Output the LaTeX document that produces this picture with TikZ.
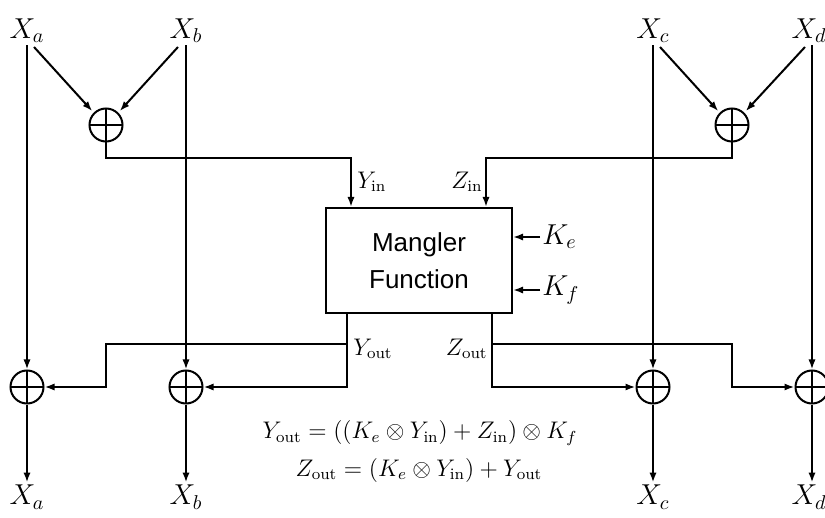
\documentclass[tikz,border=0pt]{standalone}
\usepackage{fontspec}
\newfontfamily\boxfont{Liberation Sans}
\usetikzlibrary{arrows.meta, positioning, calc}

\begin{document}
\begin{tikzpicture}[x=0.5pt, y=-0.5pt,
  wire/.style={line width=1pt},
  arr/.style={wire, -{Latex[length=5pt,width=3.6pt]}},
  xor/.style={circle, draw, line width=1pt, minimum size=16.5pt, inner sep=0pt,
    path picture={\draw[line width=1pt] (path picture bounding box.west) -- (path picture bounding box.east)
      (path picture bounding box.north) -- (path picture bounding box.south);}},
  lbl/.style={inner sep=1pt, font=\Large},
  mangler/.style={rectangle, draw, line width=1pt, minimum width=93pt, minimum height=52.5pt,
    align=center, font=\boxfont\fontsize{13}{18.5}\selectfont}
]
  \useasboundingbox (0,0) rectangle (825,518);

  % inputs
  \node[lbl] (xa) at (27,31) {$X_a$};
  \node[lbl] (xb) at (186,31) {$X_b$};
  \node[lbl] (xc) at (653,31) {$X_c$};
  \node[lbl] (xd) at (809,31) {$X_d$};

  % xor gates
  \node[xor] (xt1) at (106,125) {};
  \node[xor] (xt2) at (732,125) {};
  \node[xor] (xa1) at (27,387) {};
  \node[xor] (xb1) at (186,387) {};
  \node[xor] (xc1) at (653,387) {};
  \node[xor] (xd1) at (812,387) {};

  % mangler
  \node[mangler] (mf) at (419,260.5) {Mangler\\Function};

  % outputs
  \node[lbl] (oa) at (27,497) {$X_a$};
  \node[lbl] (ob) at (186,497) {$X_b$};
  \node[lbl] (oc) at (653,497) {$X_c$};
  \node[lbl] (od) at (809,497) {$X_d$};

  \coordinate (xa-o) at (34,47);
  \coordinate (xb-o) at (178,47);
  \coordinate (xc-o) at (660,47);
  \coordinate (xd-o) at (805,47);
  \coordinate (yin) at (351,158);
  \coordinate (zin) at (486,158);
  \coordinate (ke) at (540,237);
  \coordinate (kf) at (540,290);
  \coordinate (yout) at (347,344);
  \coordinate (zout) at (492,344);
  \coordinate (ystep) at (106,387);
  \coordinate (zstep) at (732,387);

  % top half
  \draw[arr, shorten >=1pt] (xa-o) -- (xt1.north west);
  \draw[arr, shorten >=1pt] (xb-o) -- (xt1.north east);
  \draw[arr, shorten >=1pt] (xc-o) -- (xt2.north west);
  \draw[arr, shorten >=1pt] (xd-o) -- (xt2.north east);
  \draw[arr] (xt1.south) |- (yin) -- (yin |- mf.north);
  \draw[arr] (xt2.south) |- (zin) -- (zin |- mf.north);
  \node[lbl, font=\large, anchor=west] (yinl) at (355,182) {$Y_{\mathrm{in}}$};
  \node[lbl, font=\large, anchor=east] (zinl) at (485,182) {$Z_{\mathrm{in}}$};

  % keys
  \draw[arr] (ke) -- (ke -| mf.east);
  \draw[arr] (kf) -- (kf -| mf.east);
  \node[lbl, anchor=west] (kel) at (ke) {$K_e$};
  \node[lbl, anchor=west] (kfl) at (kf) {$K_f$};

  % straight lines
  \draw[arr] (xa) -- (xa1);
  \draw[arr] (xb) -- (xb1);
  \draw[arr] (xc) -- (xc1);
  \draw[arr] (xd.south -| xd1) -- (xd1);
  \draw[arr] (xa1) -- (oa);
  \draw[arr] (xb1) -- (ob);
  \draw[arr] (xc1) -- (oc);
  \draw[arr] (xd1) -- (xd1 |- od.north);

  % bottom half
  \draw[arr] (yout |- mf.south) |- (xb1);
  \draw[arr] (yout) -| (ystep) -- (xa1);
  \draw[arr] (zout |- mf.south) |- (xc1);
  \draw[arr] (zout) -| (zstep) -- (xd1);
  \node[lbl, font=\large, anchor=west] (youtl) at (351,349) {$Y_{\mathrm{out}}$};
  \node[lbl, font=\large, anchor=east] (zoutl) at (490,349) {$Z_{\mathrm{out}}$};

  % equations
  \node[font=\large] (eq1) at (420,433) {$Y_{\mathrm{out}} = ((K_e \otimes Y_{\mathrm{in}}) + Z_{\mathrm{in}}) \otimes K_f$};
  \node[font=\large] (eq2) at (419,470) {$Z_{\mathrm{out}} = (K_e \otimes Y_{\mathrm{in}}) + Y_{\mathrm{out}}$};
\end{tikzpicture}
\end{document}
